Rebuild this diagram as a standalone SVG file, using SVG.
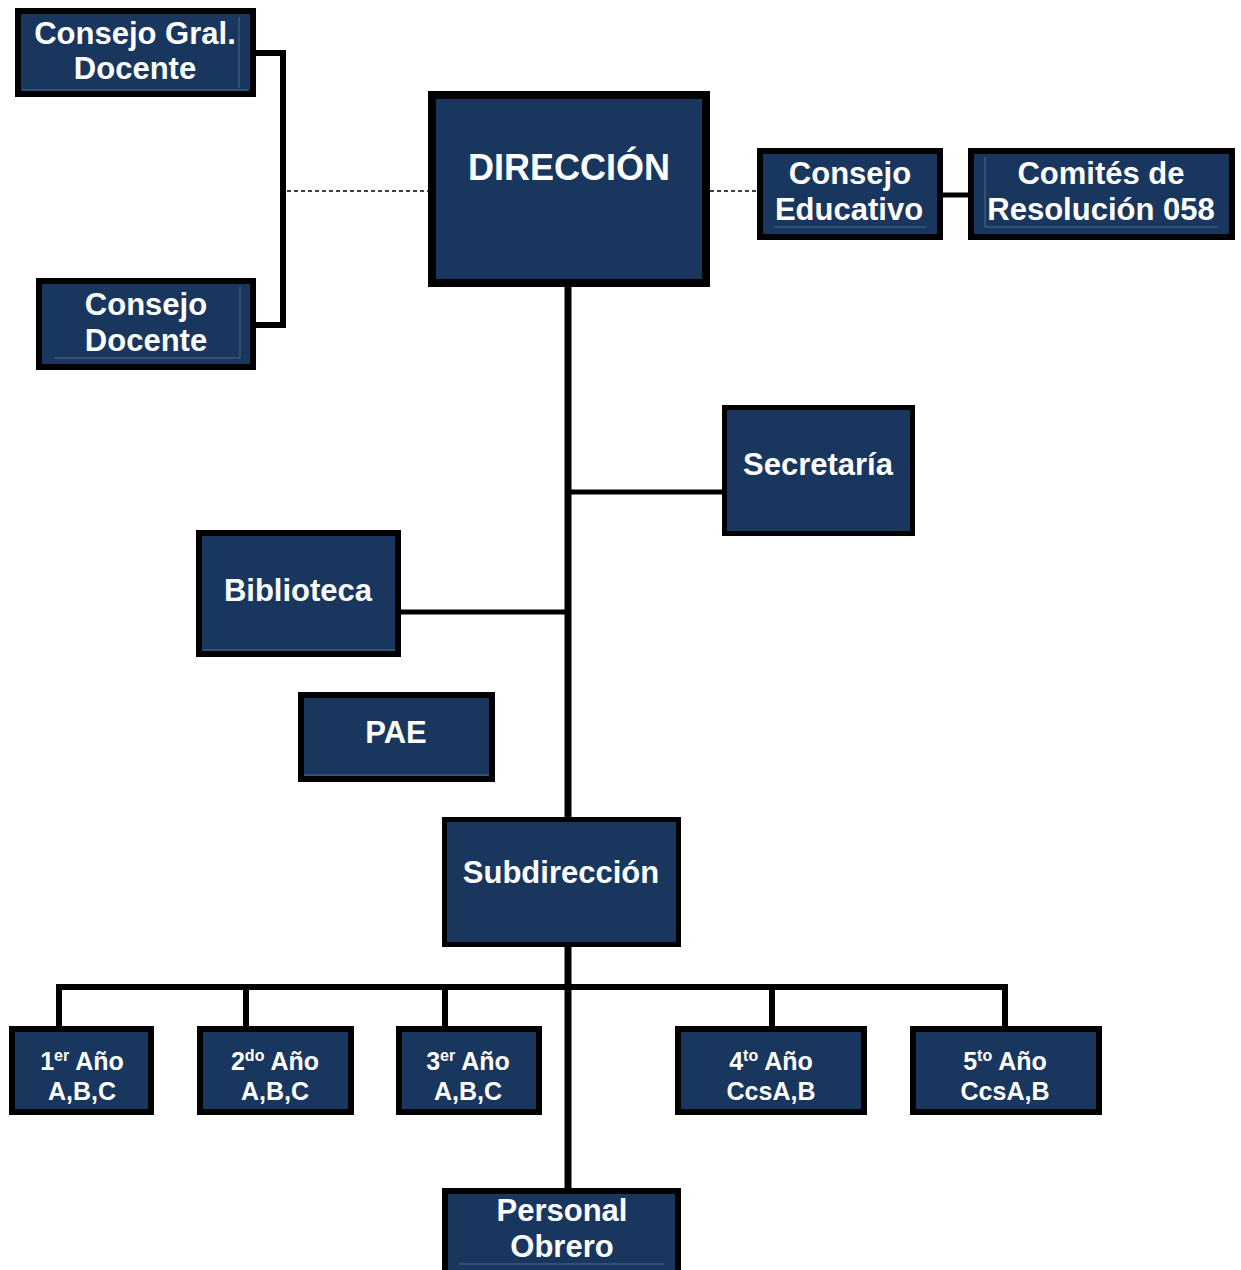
<svg xmlns="http://www.w3.org/2000/svg" width="1241" height="1270" viewBox="0 0 1241 1270">
<style>
.box{fill:#19365e;stroke:#000;stroke-width:6}
.t{font-family:"Liberation Sans",Arial,sans-serif;font-weight:bold;fill:#fff;text-anchor:middle;font-size:31px}
.s{font-size:25px}
.c{fill:none;stroke:#000;stroke-width:6}
.d{fill:none;stroke:#000;stroke-width:1.5;stroke-dasharray:4 3}
.hl{fill:none;stroke:#4f6a8e;stroke-width:1}
</style>
<rect width="1241" height="1270" fill="#fff"/>
<g id="connectors">
<path class="c" d="M256 53 H283 V325 H256"/>
<path class="d" d="M287 191 H428"/>
<path class="d" d="M710 191 H757"/>
<path class="c" d="M943 195 H968" style="stroke-width:5"/>
<path class="c" d="M568 287 V818" style="stroke-width:7"/>
<path class="c" d="M568 492 H722" style="stroke-width:5"/>
<path class="c" d="M401 612 H568" style="stroke-width:5"/>
<path class="c" d="M568 947 V1188" style="stroke-width:7"/>
<path class="c" d="M59 1027 V987 H1005 V1027"/>
<path class="c" d="M246 987 V1027"/>
<path class="c" d="M445 987 V1027"/>
<path class="c" d="M772 987 V1027"/>
</g>
<g id="consejo-gral-docente">
<rect class="box" x="18" y="11" width="235" height="83"/>
<path class="hl" d="M239 17 V88 M22 90 H248"/>
<text class="t" x="135" y="44">Consejo Gral.</text>
<text class="t" x="135" y="79">Docente</text>
</g>
<g id="consejo-docente">
<rect class="box" x="39" y="281" width="214" height="86"/>
<path class="hl" d="M54 358 H240 M240 287 V358"/>
<text class="t" x="146" y="315">Consejo</text>
<text class="t" x="146" y="351">Docente</text>
</g>
<g id="direccion">
<rect class="box" x="432" y="95" width="274" height="188" style="stroke-width:8"/>
<text class="t" x="569" y="180" style="font-size:36px">DIRECCIÓN</text>
</g>
<g id="consejo-educativo">
<rect class="box" x="760" y="151" width="180" height="86"/>
<path class="hl" d="M774 227 H926"/>
<text class="t" x="850" y="184">Consejo</text>
<text class="t" x="849" y="220">Educativo</text>
</g>
<g id="comites">
<rect class="box" x="971" y="151" width="261" height="86"/>
<path class="hl" d="M985 157 V227 H1218"/>
<text class="t" x="1101" y="184">Comités de</text>
<text class="t" x="1101" y="220">Resolución 058</text>
</g>
<g id="secretaria">
<rect class="box" x="724.5" y="407.5" width="188" height="126" style="stroke-width:5"/>
<text class="t" x="818" y="475">Secretaría</text>
</g>
<g id="biblioteca">
<rect class="box" x="199" y="533" width="199" height="121"/>
<path class="hl" d="M202 650 H395"/>
<text class="t" x="298" y="601">Biblioteca</text>
</g>
<g id="pae">
<rect class="box" x="301" y="695" width="191" height="84"/>
<path class="hl" d="M304 775 H489"/>
<text class="t" x="396" y="743">PAE</text>
</g>
<g id="subdireccion">
<rect class="box" x="444.5" y="819.5" width="234" height="125" style="stroke-width:5"/>
<text class="t" x="561" y="883">Subdirección</text>
</g>
<g id="anio1">
<rect class="box" x="12" y="1029" width="139" height="83"/>
<text class="t s" x="82" y="1070">1<tspan font-size="16" dy="-9">er</tspan><tspan dy="9"> Año</tspan></text>
<text class="t s" x="82" y="1100">A,B,C</text>
</g>
<g id="anio2">
<rect class="box" x="200" y="1029" width="151" height="83"/>
<text class="t s" x="275" y="1070">2<tspan font-size="16" dy="-9">do</tspan><tspan dy="9"> Año</tspan></text>
<text class="t s" x="275" y="1100">A,B,C</text>
</g>
<g id="anio3">
<rect class="box" x="399" y="1029" width="140" height="83"/>
<text class="t s" x="468" y="1070">3<tspan font-size="16" dy="-9">er</tspan><tspan dy="9"> Año</tspan></text>
<text class="t s" x="468" y="1100">A,B,C</text>
</g>
<g id="anio4">
<rect class="box" x="678" y="1029" width="186" height="83"/>
<text class="t s" x="771" y="1070">4<tspan font-size="16" dy="-9">to</tspan><tspan dy="9"> Año</tspan></text>
<text class="t s" x="771" y="1100">CcsA,B</text>
</g>
<g id="anio5">
<rect class="box" x="913" y="1029" width="186" height="83"/>
<text class="t s" x="1005" y="1070">5<tspan font-size="16" dy="-9">to</tspan><tspan dy="9"> Año</tspan></text>
<text class="t s" x="1005" y="1100">CcsA,B</text>
</g>
<g id="personal-obrero">
<rect class="box" x="445" y="1191" width="233" height="90"/>
<path class="hl" d="M459 1264 H664"/>
<text class="t" x="562" y="1221">Personal</text>
<text class="t" x="562" y="1257">Obrero</text>
</g>
</svg>
